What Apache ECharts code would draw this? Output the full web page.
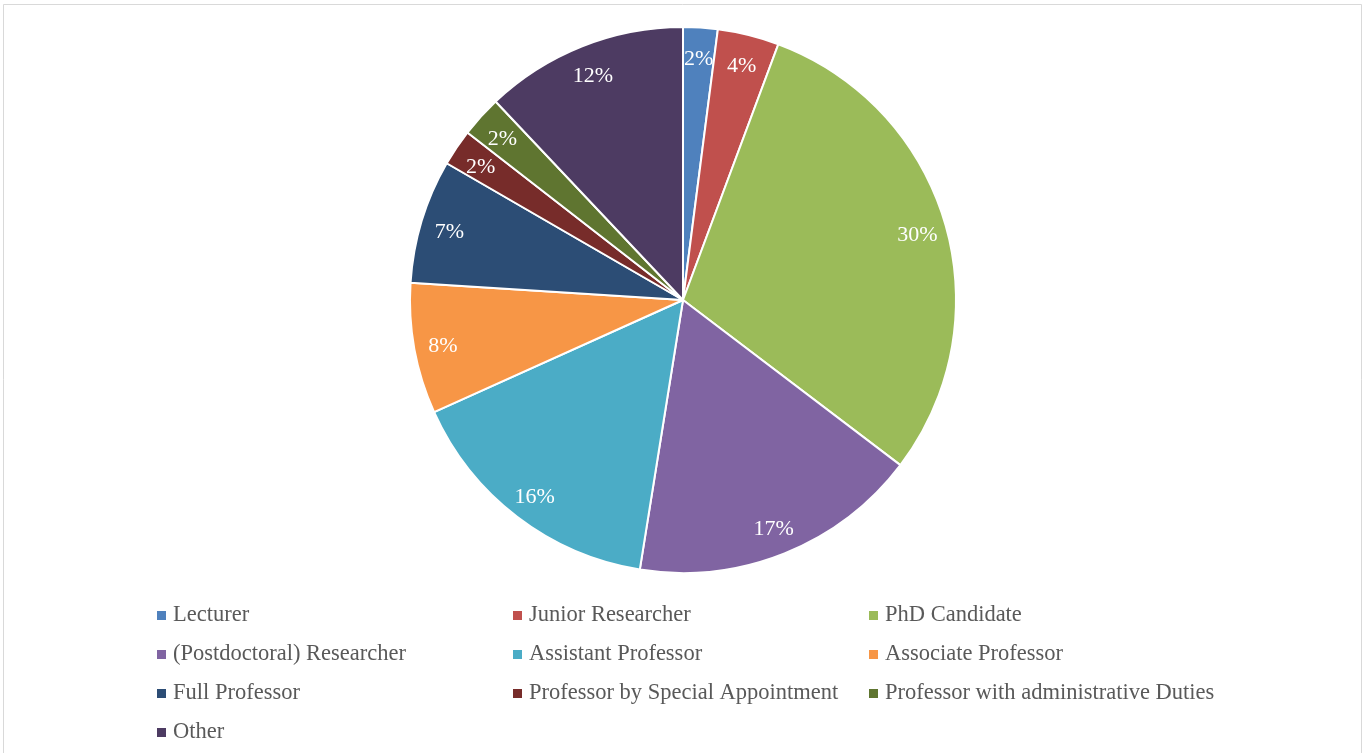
<!DOCTYPE html>
<html>
<head>
<meta charset="utf-8">
<script src="https://cdn.jsdelivr.net/npm/echarts@6/dist/echarts.min.js"></script>
<style>
html,body{margin:0;padding:0;background:#fff;}
#chart{width:1365px;height:753px;}
</style>
</head>
<body>
<div id="chart"></div>
<script>
const categories = ["Lecturer","Junior Researcher","PhD Candidate","(Postdoctoral) Researcher","Assistant Professor","Associate Professor","Full Professor","Professor by Special Appointment","Professor with administrative Duties","Other"];
const values = [2.04, 3.64, 29.66, 17.19, 15.73, 7.75, 7.34, 2.16, 2.45, 12.04];
const colors = ["#4F81BD","#C0504D","#9BBB59","#8064A2","#4BACC6","#F79646","#2C4D75","#772C2A","#5F7530","#4D3B62"];
const legendCol1 = ["Lecturer","(Postdoctoral) Researcher","Full Professor","Other"];
const legendCol2 = ["Junior Researcher","Assistant Professor","Professor by Special Appointment"];
const legendCol3 = ["PhD Candidate","Associate Professor","Professor with administrative Duties"];

const font = "'Liberation Serif','Times New Roman',serif";
const data = categories.map((c,i)=>({name:c,value:values[i],itemStyle:{color:colors[i]}}));
const labelData = categories.map((c,i)=>({name:c,value:values[i]}));

function mkLegend(list,left){
  return {
    data:list, orient:'vertical', left:left, top:604, padding:0,
    itemWidth:9, itemHeight:9, itemGap:16, icon:'rect',
    itemStyle:{borderWidth:0},
    textStyle:{fontFamily:font,fontSize:22.5,color:'#595959',lineHeight:22,padding:[0,0,0,2]},
    selectedMode:false
  };
}

const chart = echarts.init(document.getElementById('chart'));
chart.setOption({
  animation:false,
  backgroundColor:'#fff',
  graphic:[{type:'rect',shape:{x:3.5,y:4.5,width:1358,height:760},style:{fill:'none',stroke:'#d9d9d9',lineWidth:1},silent:true}],
  legend:[mkLegend(legendCol1,157),mkLegend(legendCol2,513),mkLegend(legendCol3,869)],
  series:[
    {
      type:'pie', center:[683,300], radius:[0,273], startAngle:90, clockwise:true,
      data:data,
      itemStyle:{borderColor:'#fff',borderWidth:2},
      label:{show:false}, labelLine:{show:false},
      emphasis:{disabled:true}, silent:true
    },
    {
      type:'pie', center:[683,300], radius:[211,271], startAngle:90, clockwise:true,
      data:labelData,
      itemStyle:{color:'rgba(0,0,0,0)',borderWidth:0},
      label:{show:true,position:'inside',fontFamily:font,fontSize:22,color:'#fff',offset:[0,3],
        formatter:p=>Math.round(p.percent)+'%'},
      labelLine:{show:false},
      emphasis:{disabled:true}, silent:true, z:3
    }
  ]
});
</script>
</body>
</html>
